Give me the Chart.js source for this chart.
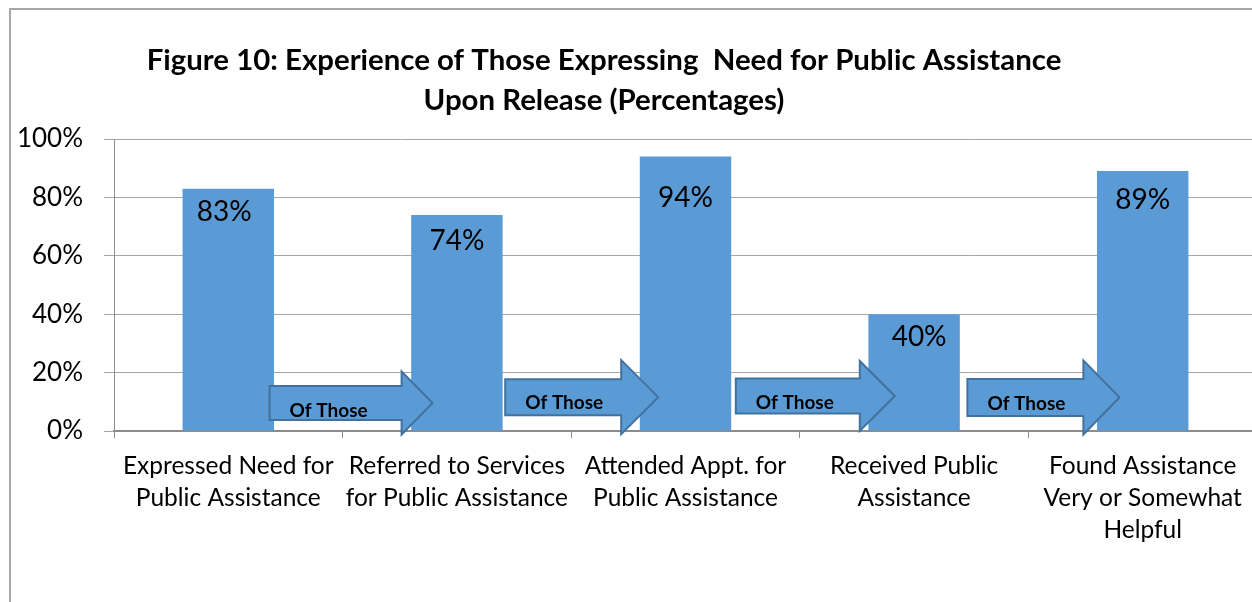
<!DOCTYPE html>
<html>
<head>
<meta charset="utf-8">
<script src="https://cdn.jsdelivr.net/npm/chart.js@4.4.0/dist/chart.umd.min.js"></script>
<style>
  html, body { margin: 0; padding: 0; overflow: hidden; background: #fff; }
  #frame {
    position: absolute; left: 9px; top: 8px; width: 1400px; height: 700px;
    border-left: 2px solid #a6a6a6; border-top: 2px solid #a6a6a6;
  }
  #wrap { position: absolute; left: 0; top: 0; width: 1257px; height: 602px; }
</style>
</head>
<body>
<div id="frame"></div>
<div id="wrap"><canvas id="stepChart"></canvas></div>
<script>
  // Steps from needing public assistance to finding it helpful, as percentages.
const categories = [
    ['Expressed Need for', 'Public Assistance'],
    ['Referred to Services', 'for Public Assistance'],
    ['Attended Appt. for', 'Public Assistance'],
    ['Received Public', 'Assistance'],
    ['Found Assistance', 'Very or Somewhat', 'Helpful'],
];

const percentages = [83, 74, 94, 40, 89];

const yTicks = [0, 20, 40, 60, 80, 100];

const titleLines = [
    'Figure 10: Experience of Those Expressing  Need for Public Assistance',
    'Upon Release (Percentages)',
];

const arrowText = 'Of Those';

Chart.defaults.font.family = 'Lato';
Chart.defaults.color = '#000';

  // Two-line heading, centred over the figure rather than the plot.
const figureTitle = {
    id: 'figureTitle',
    afterDraw(chart, args, opts) {
        const ctx = chart.ctx;
        ctx.save();
        ctx.font = opts.font;
        ctx.fillStyle = '#000';
        ctx.textAlign = 'center';
        ctx.textBaseline = 'alphabetic';
        titleLines.forEach((line, i) => ctx.fillText(line, opts.x, opts.baselines[i]));
        ctx.restore();
    }
};

  // Block arrows between neighbouring bars, each marked "Of Those".
const stepArrows = {
    id: 'stepArrows',
    afterDatasetsDraw(chart, args, opts) {
        const ctx = chart.ctx;
        const xs = chart.scales.x;
        const ys = chart.scales.y;
        ctx.save();
        opts.shapes.forEach((a, i) => {
            const b = (xs.getPixelForValue(i) + xs.getPixelForValue(i + 1)) / 2;
            const cy = ys.getPixelForValue(a.level);
            const x0 = b + a.start, x1 = b + a.neck, x2 = b + a.tip;
            const hb = a.body / 2, hh = a.head / 2;
            ctx.beginPath();
            ctx.moveTo(x0, cy - hb);
            ctx.lineTo(x1, cy - hb);
            ctx.lineTo(x1, cy - hh);
            ctx.lineTo(x2, cy);
            ctx.lineTo(x1, cy + hh);
            ctx.lineTo(x1, cy + hb);
            ctx.lineTo(x0, cy + hb);
            ctx.closePath();
            ctx.fillStyle = opts.fill;
            ctx.fill();
            ctx.lineWidth = 2;
            ctx.strokeStyle = opts.stroke;
            ctx.stroke();

            ctx.font = opts.font;
            ctx.fillStyle = '#000';
            ctx.textAlign = 'left';
            ctx.textBaseline = 'middle';
            ctx.fillText(arrowText, x0 + 20, cy + a.textDy);
        });
        ctx.restore();
    }
};

  // Value printed just inside the top of each bar.
const valueLabels = {
    id: 'valueLabels',
    afterDatasetsDraw(chart, args, opts) {
        const ctx = chart.ctx;
        const bars = chart.getDatasetMeta(0).data;
        ctx.save();
        ctx.font = opts.font;
        ctx.fillStyle = '#000';
        ctx.textAlign = 'center';
        ctx.textBaseline = 'alphabetic';
        bars.forEach((bar, i) => {
            const n = opts.nudge[i];
            ctx.fillText(percentages[i] + '%', bar.x + n[0], bar.y + n[1]);
        });
        ctx.restore();
    }
};

const data = {
    labels: categories,
    datasets: [{
        data: percentages,
        backgroundColor: '#5b9bd5',
        borderWidth: 0,
        categoryPercentage: 1,
        barPercentage: 0.4,
    }]
};

const config = {
    type: 'bar',
    data: data,
    options: {
        responsive: true,
        maintainAspectRatio: false,
        animation: false,
        layout: { padding: { left: 0, right: 0, top: 139, bottom: 0 } },
        plugins: {
            legend: { display: false },
            tooltip: { enabled: false },
            figureTitle: { font: 'bold 29.4px Lato', x: 604, baselines: [70, 110] },
            valueLabels: {
                font: '28px Lato',
                nudge: [[-4, 32], [0, 35], [0, 50], [5, 32], [0, 38]],
            },
            stepArrows: {
                fill: '#5b9bd5',
                stroke: '#41719c',
                font: 'bold 19px Lato',
                shapes: [
                    { level: 9.6, start: -73, neck: 59, tip: 90, body: 34, head: 63, textDy: 8 },
                    { level: 11.6, start: -66, neck: 50, tip: 87, body: 36, head: 74, textDy: 6 },
                    { level: 12.0, start: -64, neck: 60, tip: 95, body: 35, head: 70, textDy: 7 },
                    { level: 11.5, start: -61, neck: 55, tip: 91, body: 37, head: 74, textDy: 6 },
                ],
            },
        },
        scales: {
            x: {
                grid: { drawOnChartArea: false, tickLength: 7, color: '#8c8c8c', offset: true },
                border: { color: '#8c8c8c', width: 2 },
                ticks: {
                    font: { size: 24.5, lineHeight: 1.31 },
                    padding: 12,
                    maxRotation: 0,
                    autoSkip: false,
                },
                afterFit: s => { s.height = 171; },
            },
            y: {
                min: 0,
                max: 100,
                grid: { color: '#a6a6a6', tickLength: 10 },
                border: { color: '#8c8c8c', width: 1 },
                ticks: {
                    font: { size: 26 },
                    padding: 21,
                    callback: v => v + '%',
                },
                afterBuildTicks: s => { s.ticks = yTicks.map(v => ({ value: v })); },
                afterFit: s => { s.width = 114; },
            },
        },
    },
    plugins: [figureTitle, stepArrows, valueLabels],
};

const stepChart = new Chart(document.getElementById('stepChart'), config);
</script>
</body>
</html>
